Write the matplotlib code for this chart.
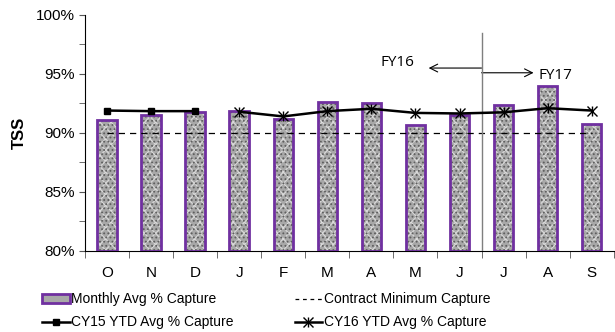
import numpy as np
import matplotlib
matplotlib.use("Agg")
import matplotlib.pyplot as plt
from matplotlib.patches import Patch
from matplotlib.lines import Line2D
from matplotlib.legend_handler import HandlerTuple
from matplotlib.ticker import MultipleLocator, FuncFormatter

plt.rcParams['font.family'] = ['Liberation Sans', 'DejaVu Sans']
plt.rcParams['hatch.linewidth'] = 0.8

months = ["O", "N", "D", "J", "F", "M", "A", "M", "J", "J", "A", "S"]
monthly_capture = [91.1, 91.5, 91.8, 91.9, 91.2, 92.6, 92.5, 90.7, 91.5, 92.4, 94.0, 90.8]
contract_min = [90.0] * 12
cy15_ytd = [91.9, 91.85, 91.85]
cy16_ytd = [91.8, 91.4, 91.85, 92.05, 91.7, 91.65, 91.75, 92.1, 91.9]

x = np.arange(len(months))
x15 = x[:3]
x16 = x[3:]

fig = plt.figure(figsize=(6.15, 3.32), dpi=100)
ax = fig.add_axes([0.138, 0.244, 0.86, 0.711])

purple = "#7030a0"
heights = [v - 80 for v in monthly_capture]
# bars: gray fill with speckle hatches on top, purple outline
ax.bar(x, heights, bottom=80, width=0.44, color="#a8a8a8", edgecolor="none", zorder=2)
ax.bar(x, heights, bottom=80, width=0.44, color="none", edgecolor="#dadada",
       hatch="xxx", linewidth=0, zorder=2)
ax.bar(x, heights, bottom=80, width=0.44, color="none", edgecolor="#5e5e5e",
       hatch="....", linewidth=0, zorder=2)
ax.bar(x, heights, bottom=80, width=0.44, color="none", edgecolor=purple,
       linewidth=2, zorder=3)

ax.plot(x, contract_min, color="black", linestyle=(0, (5, 4)), linewidth=0.9, zorder=4)

ax.plot(x15, cy15_ytd, color="black", linewidth=1.8, marker="s", markersize=5, zorder=5)
ax.plot(x16, cy16_ytd, color="black", linewidth=1.8, marker="x", markersize=7,
        markeredgewidth=1, zorder=5)
ax.plot(x16, cy16_ytd, color="black", linestyle="none", marker="|", markersize=7,
        markeredgewidth=1, zorder=5)

# fiscal year split
ax.plot([8.5, 8.5], [80, 98.45], color="#7f7f7f", linewidth=1, zorder=4)
ax.annotate("", xy=(7.3, 95.5), xytext=(8.5, 95.5),
            arrowprops=dict(arrowstyle="->", color="black", linewidth=0.8,
                            shrinkA=0, shrinkB=0, mutation_scale=14))
ax.annotate("", xy=(9.68, 95.1), xytext=(8.5, 95.1),
            arrowprops=dict(arrowstyle="->", color="black", linewidth=0.8,
                            shrinkA=0, shrinkB=0, mutation_scale=14))
ax.text(6.2, 95.95, "FY16", fontsize=11, va="center", ha="left",
        family=["Open Sans", "DejaVu Sans"])
ax.text(9.8, 94.9, "FY17", fontsize=11, va="center", ha="left",
        family=["Open Sans", "DejaVu Sans"])

ax.set_xlim(-0.5, 11.5)
ax.set_ylim(80, 100)
ax.yaxis.set_major_locator(MultipleLocator(5))
ax.yaxis.set_minor_locator(MultipleLocator(2.5))
ax.yaxis.set_major_formatter(FuncFormatter(lambda v, p: "{:.0f}%".format(v)))
ax.set_xticks(x)
ax.set_xticklabels(months)
ax.set_xticks(np.arange(-0.5, 12, 1), minor=True)
ax.tick_params(axis="x", which="major", length=0, labelsize=11, pad=11)
ax.tick_params(axis="x", which="minor", length=5, color="#555555")
ax.tick_params(axis="y", which="both", length=4, color="#555555", labelsize=11)
ax.spines["top"].set_visible(False)
ax.spines["right"].set_visible(False)
ax.set_ylabel("TSS", fontsize=12, fontweight="bold", labelpad=6)

bar_handle = Patch(facecolor="#a8a8a8", edgecolor=purple, linewidth=2)
cy15_handle = Line2D([], [], color="black", linewidth=1.8, marker="s", markersize=5)
contract_handle = Line2D([], [], color="black", linestyle=(0, (3, 3)), linewidth=0.9)
cy16_x = Line2D([], [], color="black", linewidth=1.8, marker="x", markersize=7,
                markeredgewidth=1)
cy16_bar = Line2D([], [], color="black", linestyle="none", marker="|", markersize=7,
                  markeredgewidth=1)
handles = [bar_handle, cy15_handle, contract_handle, (cy16_x, cy16_bar)]
labels = ["Monthly Avg % Capture", "CY15 YTD Avg % Capture",
          "Contract Minimum Capture", "CY16 YTD Avg % Capture"]
fig.legend(handles=handles, labels=labels, ncol=2, loc="upper left",
           bbox_to_anchor=(0.068, 0.12), borderpad=0, borderaxespad=0,
           frameon=False, fontsize=10, handlelength=2.0, handleheight=0.6,
           handletextpad=0.1, columnspacing=4.4, labelspacing=0.65,
           handler_map={tuple: HandlerTuple(ndivide=1)})

fig.savefig("out.png", dpi=100)
